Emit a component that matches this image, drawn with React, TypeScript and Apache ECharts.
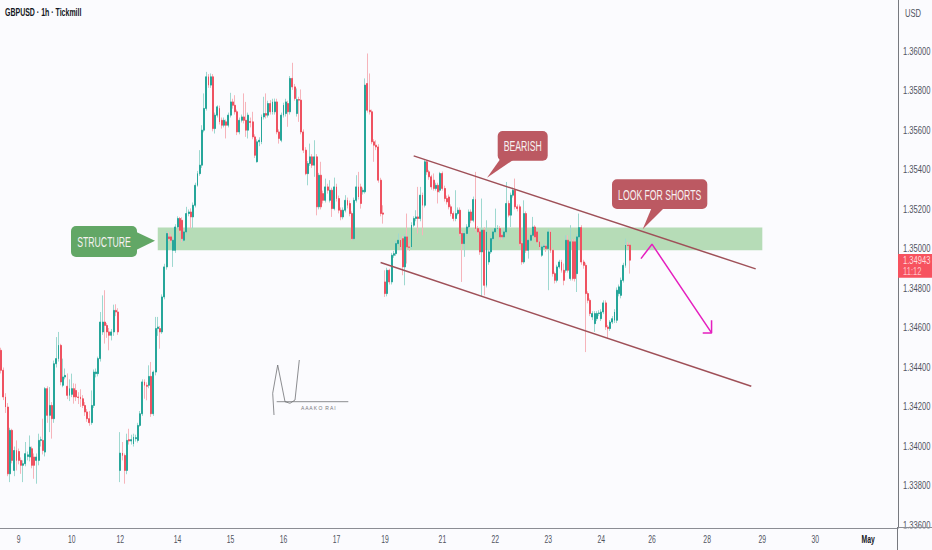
import React, { useEffect, useRef } from "react";
import * as echarts from "echarts";

// Prices are written as points above 1.30000 (1 point = 0.00001); each row is open, close, low, high.
const PRICE_BASE = 1.3;
const weekOneBars = [
[4487,4386,4370,4500],[4386,4251,4235,4400],[4251,4200,4170,4270],[4200,3862,3850,4220],[3862,4082,3820,4095],[4082,3930,3915,4090],[3879,3980,3850,4000],[3980,3930,3879,4031],[3975,3930,3910,3990],[3930,3905,3862,3945],
[3905,3913,3820,3930],[3913,3964,3900,4023],[3950,3958,3930,3975],[3947,3997,3925,4056],[3989,3905,3890,4000],[3947,3905,3837,3965],[3930,3947,3812,3965],[3930,4031,3905,4065],[4031,4035,4000,4050],[4031,3980,3960,4141],
[3972,4293,3950,4301],[4293,4158,4120,4305],[4158,4208,4073,4301],[4208,4141,4040,4225],[4141,4419,4120,4435],[4419,4445,4400,4554],[4445,4512,4430,4580],[4512,4327,4310,4520],[4310,4352,4300,4445],[4352,4360,4340,4395],
[4305,4259,4240,4370],[4259,4293,4230,4340],[4264,4293,4250,4369],[4293,4251,4217,4320],[4284,4251,4230,4318],[4251,4248,4215,4275],[4251,4242,4200,4290],[4242,4208,4195,4260],[4208,4175,4155,4225],[4175,4141,4125,4190],
[4141,4121,4105,4180],[4121,4208,4110,4284],[4208,4377,4195,4390],[4369,4377,4350,4395],[4369,4445,4355,4455],[4445,4630,4430,4681],[4580,4630,4565,4765],[4630,4613,4521,4791],[4613,4580,4550,4625],[4580,4563,4487,4600],
[4563,4580,4537,4595],[4580,4689,4560,4718],[4689,4681,4660,4720],[4681,4580,4565,4700],
];
const weekTwoRally = [
[3879,3967,3820,4073],[3967,3955,3930,4023],[3955,3879,3812,3965],[3879,4031,3860,4065],[4035,4028,4010,4090],[4028,4035,4010,4060],[4014,4048,4000,4065],[4040,4045,4025,4060],[4031,4107,4020,4120],[4107,4166,4100,4180],
[4166,4327,4155,4340],[4327,4310,4242,4340],[4310,4305,4234,4325],[4310,4355,4295,4411],[4355,4166,4150,4428],[4166,4377,4155,4385],[4377,4597,4360,4656],[4597,4605,4560,4656],[4597,4580,4495,4610],[4580,4757,4570,4770],
[4757,4909,4745,4925],[4909,5078,4895,5090],[5061,5052,5040,5086],[5061,5044,5030,5075],[4993,5044,4909,5055],[4993,5111,4980,5125],[5111,5154,5100,5165],[5154,5094,5080,5162],[5145,5052,5035,5160],[5044,5086,5035,5095],
[5086,5179,5075,5213],[5179,5187,5165,5200],[5187,5162,5105,5205],[5162,5221,5105,5235],[5221,5322,5210,5335],[5322,5381,5315,5395],[5381,5424,5370,5500],[5424,5601,5410,5626],[5601,5711,5590,5787],[5711,5871,5700,5896],
];
const weekTwoTop = [
[5871,5829,5815,5885],[5829,5871,5815,5888],[5871,5609,5595,5885],[5609,5677,5584,5690],[5677,5719,5665,5727],[5711,5643,5630,5725],[5651,5626,5609,5665],[5626,5651,5615,5665],[5643,5626,5559,5655],[5626,5677,5615,5690],
[5677,5744,5665,5790],[5744,5727,5710,5760],[5727,5694,5680,5778],[5694,5592,5576,5705],[5592,5651,5580,5665],[5651,5668,5640,5680],[5668,5651,5635,5787],[5651,5601,5567,5744],[5601,5677,5559,5690],[5645,5640,5615,5665],
[5643,5567,5555,5694],[5567,5474,5460,5580],[5441,5542,5437,5555],[5542,5550,5520,5565],[5542,5668,5530,5680],[5668,5685,5655,5770],[5685,5677,5660,5787],[5677,5736,5665,5750],[5736,5694,5680,5753],[5694,5744,5680,5760],
[5694,5744,5680,5761],[5744,5592,5580,5760],[5592,5559,5533,5605],[5550,5677,5540,5690],[5677,5727,5665,5740],[5685,5744,5670,5760],[5736,5694,5618,5750],[5694,5863,5680,5875],[5863,5820,5805,5942],[5820,5761,5750,5835],
];
const weekTwoDecline = [
[5685,5756,5670,5812],[5756,5753,5643,5770],[5753,5592,5580,5807],[5592,5500,5485,5605],[5500,5381,5373,5515],[5381,5432,5322,5445],[5432,5466,5420,5533],[5466,5424,5410,5480],[5424,5466,5365,5550],[5466,5213,5170,5480],
[5213,5373,5200,5385],[5373,5213,5200,5441],[5280,5246,5230,5295],[5246,5314,5235,5356],[5314,5297,5280,5330],[5246,5297,5235,5348],[5297,5204,5162,5310],[5204,5314,5195,5361],[5314,5255,5240,5330],[5255,5196,5180,5270],
[5196,5162,5145,5210],[5162,5196,5150,5210],[5196,5246,5185,5272],[5246,5221,5205,5260],[5230,5179,5165,5245],[5179,5052,5044,5190],[5052,5246,5044,5260],[5246,5314,5235,5373],[5314,5263,5250,5390],[5314,5230,5204,5330],
[5289,5297,5275,5310],[5289,5829,5280,5863],[5837,5702,5690,5989],[5702,5694,5680,5888],[5694,5542,5530,5705],[5542,5525,5441,5555],[5525,5516,5500,5550],[5516,5348,5335,5530],[5348,5179,5165,5360],[5182,5176,5128,5221],
];
const weekThreeOpen = [
[4833,4774,4757,4892],[4774,4892,4760,4905],[4892,4833,4820,4900],[4833,4968,4820,4980],[4968,4976,4955,4990],[4976,5027,4965,5040],[5027,5044,5015,5078],[5044,5010,4995,5055],[5052,4909,4867,5065],[4909,5061,4816,5075],
[5061,5010,4926,5179],[5010,5008,4990,5030],[5010,5120,5000,5135],[5120,5154,5110,5165],[5154,5162,5140,5196],[5162,5154,5078,5314],[5154,5272,5140,5314],[5272,5221,5069,5285],[5221,5441,5210,5450],[5441,5390,5375,5450],
[5390,5365,5350,5400],[5365,5314,5300,5375],[5348,5306,5295,5382],[5306,5322,5295,5335],[5322,5289,5230,5335],[5297,5382,5285,5390],[5382,5306,5295,5392],[5306,5255,5240,5320],[5255,5238,5225,5270],[5263,5213,5200,5275],
[5213,5179,5165,5225],[5179,5154,5140,5190],[5154,5179,5140,5297],[5179,5196,5170,5210],[5196,5078,5065,5210],[5078,5027,4833,5090],[5027,5078,4960,5090],[5078,5111,5065,5125],[5111,5187,5100,5200],[5187,5145,5130,5200],
];
const weekThreeMiddle = [
[5145,5250,5135,5265],[5250,5103,5090,5390],[5103,5086,5070,5115],[5086,4985,4970,5100],[4985,5095,4757,5255],[5095,4816,4765,5110],[4816,5086,4805,5145],[4934,4985,4920,5000],[4985,5052,4975,5065],[5052,5086,5040,5100],
[5086,5103,5075,5204],[5103,5105,5090,5120],[5103,5061,5045,5115],[5069,5061,5045,5080],[5061,5086,5050,5100],[5086,5230,5075,5339],[5230,5171,5160,5245],[5171,5272,5111,5285],[5272,5297,5260,5310],[5297,5213,5200,5356],
[5213,5204,5190,5225],[5213,5027,5015,5225],[5027,4934,4920,5040],[4934,5179,4925,5246],[5179,4993,4980,5190],[4993,5044,4951,5055],[5044,5069,5035,5080],[5069,5111,5060,5162],[5111,5061,5050,5120],[5086,5036,5025,5095],
[5036,5010,4995,5045],[4968,5010,4960,5020],[5010,5014,5000,5025],[5014,5002,4985,5025],[5002,5086,4791,5100],[5086,4993,4980,5095],[4993,4875,4860,5005],[4875,4841,4825,4885],[4841,4909,4830,4920],[4909,4934,4900,4945],
];
const weekThreeClose = [
[4934,4892,4880,4945],[4892,4841,4816,4926],[4892,5044,4880,5069],[5044,4892,4880,5069],[4850,5036,4840,5120],[5036,4850,4840,5050],[5036,4850,4835,5050],[4875,5061,4782,5075],[5061,5108,5050,5179],[5108,4934,4920,5120],
[4934,4917,4900,4945],[4917,4774,4478,4930],[4774,4740,4725,4785],[4740,4673,4660,4750],[4656,4673,4640,4685],[4622,4673,4580,4685],[4647,4673,4635,4685],[4673,4676,4660,4690],[4647,4681,4635,4695],[4681,4727,4670,4740],
[4727,4605,4590,4740],[4605,4597,4546,4615],[4597,4630,4585,4640],[4630,4647,4620,4660],[4639,4681,4625,4695],[4639,4791,4625,4805],[4774,4808,4760,4820],[4765,4841,4750,4855],[4841,4917,4830,4930],[4917,5019,4905,5052],
[5019,5017,5000,5035],[5019,4943,4875,5030],
];

const SLOT_COUNT = 407;
const dayLabels: [number, string][] = [
  [8, "9"], [32, "10"], [54, "12"], [80, "14"], [104, "15"], [128, "16"], [152, "17"], [174, "19"],
  [200, "21"], [224, "22"], [248, "23"], [272, "24"], [295, "26"], [320, "28"], [345, "29"], [369, "30"], [393, "May"],
];
const priceTicks = [1.336, 1.338, 1.34, 1.342, 1.344, 1.346, 1.348, 1.35, 1.352, 1.354, 1.356, 1.358, 1.36];

// Drawing tools on the chart: [bar slot, points]
const upperChannel = [[187, 5471], [342, 4899]];
const lowerChannel = [[172, 4931], [340, 4305]];
const forecastPath = [[290, 4951], [295, 5024], [322, 4575]];
const forecastHead = [[318, 4575], [322, 4575], [322, 4639]];
const structureZone = { from: 71, to: 345, low: 4993, high: 5108 };

const FONT = '"Liberation Sans", sans-serif';
const UP = "#26a69a";
const DOWN = "#ef5261";
const toPrice = (p: number) => PRICE_BASE + p / 100000;
const asPoints = (pts: number[][]) => pts.map(([i, p]) => [i, toPrice(p)]);

// The reference's lettering is condensed and no condensed face is installed, so texts are squeezed horizontally.
function callout(
  x: number, y: number, w: number, h: number, tail: number[][], fill: string, text: string, fontSize: number,
) {
  return [
    { type: "polygon", z: 50, shape: { points: tail }, style: { fill } },
    { type: "rect", z: 50, shape: { x, y, width: w, height: h, r: 5 }, style: { fill } },
    {
      type: "text", z: 51, x: x + w / 2, y: y + h / 2, scaleX: 0.62,
      style: { text, fill: "#f6f1f1", font: `${fontSize}px ${FONT}`, textAlign: "center", textVerticalAlign: "middle" },
    },
  ];
}

function squeezeAxisTexts(root: HTMLElement) {
  root.querySelectorAll("text").forEach((node) => {
    if (node.getAttribute("data-squeezed")) return;
    const content = (node.textContent ?? "").trim();
    const isPrice = /^1\.3\d{4}/.test(content);
    const isDay = /^(\d{1,2}|May)$/.test(content);
    if (!isPrice && !isDay) return;
    const t = node.getAttribute("transform") ?? "";
    const nums = (t.match(/-?\d*\.?\d+(?:e-?\d+)?/g) ?? []).map(Number);
    let parts: number[] | null = null;
    if (t.startsWith("matrix") && nums.length === 6) parts = nums;
    else if (t.startsWith("translate") && nums.length >= 1) parts = [1, 0, 0, 1, nums[0], nums[1] ?? 0];
    if (!parts) return;
    if (parts[0] !== 1) return; // already squeezed through the graphic's scaleX
    parts[0] = isPrice ? 0.76 : 0.68;
    node.setAttribute("transform", `matrix(${parts.join(",")})`);
    node.setAttribute("data-squeezed", "1");
    if (content === "May") {
      node.style.fontWeight = "bold";
      node.setAttribute("fill", "#131722");
      node.style.fill = "#131722";
    }
  });
}

export default function App() {
  const ref = useRef<HTMLDivElement>(null);

  useEffect(() => {
    document.body.style.margin = "0";
    const chart = echarts.init(ref.current!, undefined, { renderer: "svg" });
    const bars = [
      ...weekOneBars, ...weekTwoRally, ...weekTwoTop, ...weekTwoDecline,
      ...weekThreeOpen, ...weekThreeMiddle, ...weekThreeClose,
    ];
    const categories = Array.from({ length: SLOT_COUNT }, (_, i) => String(i));
    const labelAt = new Map(dayLabels);
    const wickData = bars.map((b) => b.map(toPrice));
    const bodyData = bars.map(([o, c]) => {
      const op = toPrice(o), cl = toPrice(c);
      return [op, cl, Math.min(op, cl), Math.max(op, cl)];
    });
    const line = (name: string, data: number[][], color: string, width: number, z: number, extra: object = {}) => ({
      name, type: "line", data: asPoints(data), showSymbol: false, symbol: "none", silent: true, z,
      lineStyle: { color, width }, clip: false, ...extra,
    });

    chart.on("finished", () => squeezeAxisTexts(ref.current!));
    chart.setOption({
      animation: false,
      backgroundColor: "#fbfbfe",
      grid: { left: 0, right: 34, top: 0, bottom: 22, outerBoundsMode: "none", containLabel: false },
      xAxis: {
        type: "category",
        data: categories,
        boundaryGap: true,
        axisTick: { show: false },
        axisLine: { show: true, lineStyle: { color: "#8b8d94", width: 1 } },
        splitLine: { show: false },
        axisLabel: {
          interval: (i: number) => labelAt.has(i),
          formatter: (_: string, i: number) => labelAt.get(i) ?? "",
          color: "#50535e",
          fontFamily: FONT,
          fontSize: 10,
          margin: 6,
        },
      },
      yAxis: {
        type: "value",
        position: "right",
        scale: true,
        min: 1.335878,
        max: 1.362597,
        splitLine: { show: false },
        axisLine: { show: true, lineStyle: { color: "#77797f", width: 1 } },
        axisTick: { show: false },
        axisLabel: {
          customValues: priceTicks,
          formatter: (v: number) => v.toFixed(5),
          color: "#50535e",
          fontFamily: FONT,
          fontSize: 10,
          margin: 5,
          align: "left",
        },
      },
      series: [
        {
          name: "Wicks", type: "candlestick", data: wickData, barWidth: 0.5, z: 2, silent: true,
          itemStyle: { color: "#9ed8d0", color0: "#f6b4bb", borderColor: "#9ed8d0", borderColor0: "#f6b4bb", borderWidth: 1 },
        },
        {
          name: "GBPUSD", type: "candlestick", data: bodyData, barWidth: 1.4, z: 3, silent: true,
          itemStyle: { color: UP, color0: DOWN, borderColor: UP, borderColor0: DOWN, borderWidth: 1 },
        },
        line("Upper channel", upperChannel, "#9f5058", 1.5, 6, {
          markArea: {
            silent: true,
            itemStyle: { color: "rgba(106,186,106,0.48)" },
            data: [[
              { xAxis: structureZone.from, yAxis: toPrice(structureZone.high) },
              { xAxis: structureZone.to, yAxis: toPrice(structureZone.low) },
            ]],
          },
        }),
        line("Lower channel", lowerChannel, "#9f5058", 1.5, 6),
        line("Forecast", forecastPath, "#e51fbf", 1.5, 7),
        line("Forecast head", forecastHead, "#e51fbf", 1.5, 7),
      ],
      graphic: [
        { type: "text", z: 60, x: 5, y: 13, scaleX: 0.7, style: { text: "GBPUSD · 1h · Tickmill", fill: "#131722", font: `bold 10px ${FONT}`, textVerticalAlign: "middle" } },
        { type: "text", z: 60, x: 905, y: 14, scaleX: 0.76, style: { text: "USD", fill: "#50535e", font: `10px ${FONT}`, textVerticalAlign: "middle" } },
        ...callout(71, 226, 66, 31, [[130, 229], [155, 240.7], [130, 253]], "#62a766", "STRUCTURE", 14),
        ...callout(497.7, 131, 50, 29.7, [[501, 158], [516, 158], [487, 177.7]], "#bc5962", "BEARISH", 14),
        ...callout(612, 179.3, 95.3, 29.7, [[652, 207], [665, 207], [642.7, 229.3]], "#bc5962", "LOOK FOR SHORTS", 14),
        { type: "rect", z: 60, shape: { x: 898, y: 254, width: 34, height: 23.7 }, style: { fill: "#f7525f" } },
        { type: "text", z: 61, x: 903, y: 261, scaleX: 0.76, style: { text: "1.34943", fill: "#ffd9dc", font: `10px ${FONT}`, textVerticalAlign: "middle" } },
        { type: "text", z: 61, x: 903, y: 271.5, scaleX: 0.76, style: { text: "11:12", fill: "#ffc4c9", font: `10px ${FONT}`, textVerticalAlign: "middle" } },
        { type: "rect", z: 55, shape: { x: 898.5, y: 528.5, width: 34, height: 22 }, style: { fill: "#fbfbfe" } },
        { type: "line", z: 56, shape: { x1: 897.5, y1: 527.5, x2: 932, y2: 527.5 }, style: { stroke: "#8b8d94", lineWidth: 1 } },
        { type: "line", z: 56, shape: { x1: 897.5, y1: 527, x2: 897.5, y2: 550 }, style: { stroke: "#77797f", lineWidth: 1 } },
        { type: "polyline", z: 40, shape: { points: [[274, 415], [272.7, 393.3], [277.7, 365], [285, 401.7], [290, 403.3], [295, 400], [299.3, 360]] }, style: { stroke: "#6f7073", lineWidth: 0.8, fill: "none" } },
        { type: "line", z: 40, shape: { x1: 276.7, y1: 401.7, x2: 348.3, y2: 401.7 }, style: { stroke: "#6f7073", lineWidth: 0.8 } },
        { type: "text", z: 40, x: 301, y: 408, style: { text: "A A A K O  R A I", fill: "#77787c", font: `5px ${FONT}`, textVerticalAlign: "middle" } },
      ],
    });
    squeezeAxisTexts(ref.current!);
    return () => chart.dispose();
  }, []);

  return <div ref={ref} style={{ position: "absolute", left: 0, top: 0, width: 932, height: 550 }} />;
}
